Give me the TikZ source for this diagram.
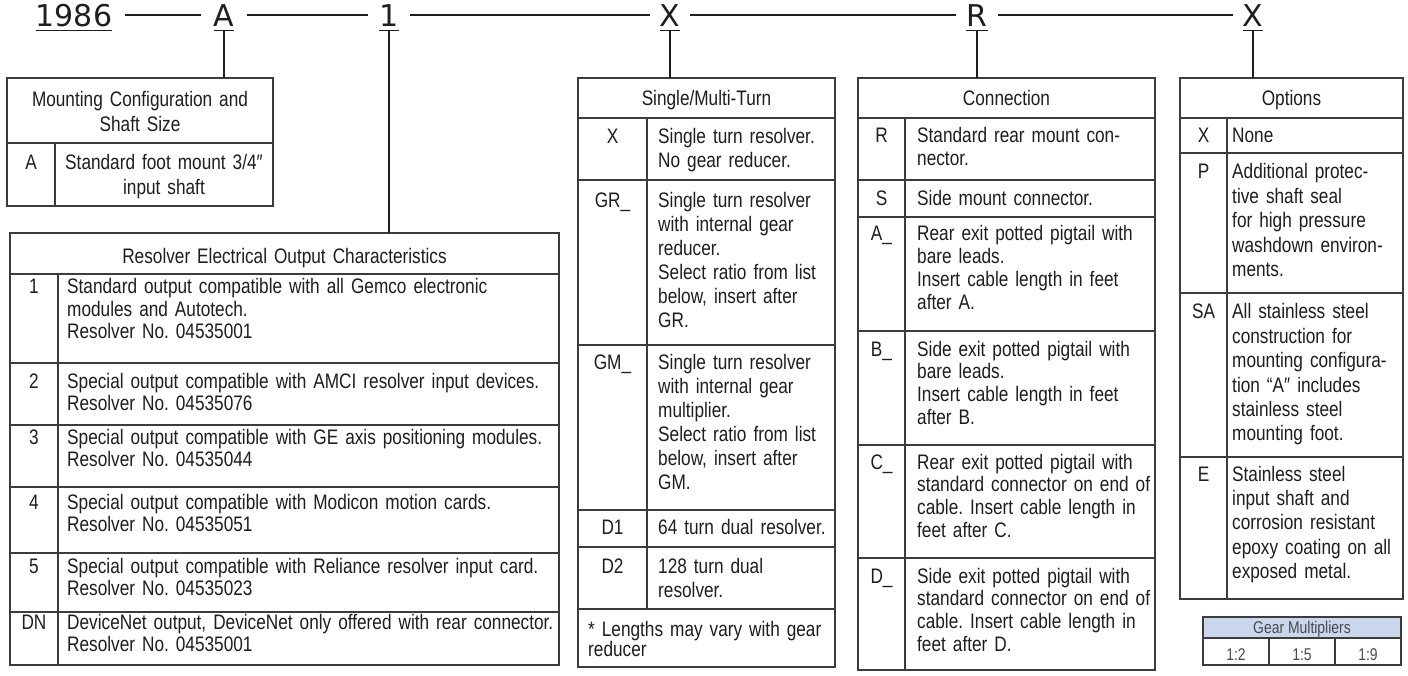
\documentclass[tikz,border=0pt]{standalone}
\usepackage{fontspec}
\newfontfamily\bodyfont{Liberation Sans}[FakeStretch=0.82]
\newfontfamily\hdrfont{DejaVu Sans}
\definecolor{tcol}{HTML}{3C3C3C}
\definecolor{txt}{HTML}{1E1E1E}
\definecolor{gearfill}{HTML}{C9D6EC}
\definecolor{geartxt}{HTML}{4A4A4A}
\newcommand\ResFont{\bodyfont\fontsize{21}{22.5}\selectfont}
\newcommand\SglFont{\bodyfont\fontsize{21}{24}\selectfont}
\newcommand\ConFont{\bodyfont\fontsize{21}{22.7}\selectfont}
\newcommand\OptFont{\bodyfont\fontsize{21}{24.4}\selectfont}
\newcommand\MntFont{\bodyfont\fontsize{21}{25}\selectfont}
\newcommand\NoteFont{\bodyfont\fontsize{21}{20}\selectfont}
\newcommand\GearFont{\bodyfont\fontsize{17}{20}\selectfont}
\frenchspacing
\begin{document}
\begin{tikzpicture}[x=1pt,y=-1pt,
  frame/.style={draw=tcol, line width=1.4pt, anchor=north west, inner sep=0pt, outer sep=0pt},
  gline/.style={draw=tcol, line width=1.4pt},
  hl/.style={draw=txt, line width=1.3pt},
  lab/.style={anchor=base, inner sep=0pt, text height=24pt, text depth=0pt, font=\hdrfont\fontsize{30}{30}\selectfont, text=txt},
  desc/.style={anchor=base west, inner sep=0pt, text width=#1, align=left, text=txt, execute at begin node=\frenchspacing},
  cdesc/.style={anchor=base, inner sep=0pt, text width=#1, align=center, text=txt, execute at begin node=\frenchspacing},
  codetx/.style={anchor=base, inner sep=0pt, text=txt},
]
\fill[white] (0,0) rectangle (1408,676);
\useasboundingbox (0,0) rectangle (1408,676);

% ---------- frames ----------
\node[frame, minimum width=266pt, minimum height=128pt] (mount) at (7,78) {};
\node[frame, minimum width=549pt, minimum height=432pt] (res) at (10,233) {};
\node[frame, minimum width=257pt, minimum height=589pt] (sgl) at (578,78) {};
\node[frame, minimum width=297pt, minimum height=592pt] (con) at (858,78) {};
\node[frame, minimum width=223pt, minimum height=521pt] (opt) at (1180,78) {};
\fill[gearfill] (1203,617) rectangle (1401,638);
\node[frame, line width=1.2pt, minimum width=198pt, minimum height=48pt] (gear) at (1203,617) {};

% ---------- grid lines ----------
% mounting
\draw[gline] (7,143) -- (273,143);
\draw[gline] (55,143) -- (55,206);
% resolver
\foreach \yy in {274,363,425,487,553,612} \draw[gline] (10,\yy) -- (559,\yy);
\draw[gline] (58,274) -- (58,665);
% single/multi
\foreach \yy in {118,180,345,510,547,609} \draw[gline] (578,\yy) -- (835,\yy);
\draw[gline] (647,118) -- (647,609);
% connection
\foreach \yy in {118,180,217,331,445,558} \draw[gline] (858,\yy) -- (1155,\yy);
\draw[gline] (905,118) -- (905,670);
% options
\foreach \yy in {118,153,293,457} \draw[gline] (1180,\yy) -- (1403,\yy);
\draw[gline] (1227,118) -- (1227,599);
% gear
\draw[gline, line width=1.2pt] (1203,638) -- (1401,638);
\draw[gline, line width=1.2pt] (1269,638) -- (1269,665);
\draw[gline, line width=1.2pt] (1335,638) -- (1335,665);

% ---------- header ----------
\node[lab] (n1986) at (74,27) {1986};
\node[lab] (nA) at (224,27) {A};
\node[lab] (n1) at (389,27) {1};
\node[lab] (nX1) at (670,27) {X};
\node[lab] (nR) at (977,27) {R};
\node[lab] (nX2) at (1253,27) {X};
\foreach \n in {n1986,nA,n1,nX1,nR,nX2}
  \draw[hl] ([yshift=-3pt]\n.south west) -- ([yshift=-3pt]\n.south east);
\draw[hl] ([xshift=13pt]n1986.east) -- ([xshift=-13pt]nA.west);
\draw[hl] ([xshift=13pt]nA.east) -- ([xshift=-11pt]n1.west);
\draw[hl] ([xshift=11pt]n1.east) -- ([xshift=-10pt]nX1.west);
\draw[hl] ([xshift=10pt]nX1.east) -- ([xshift=-10pt]nR.west);
\draw[hl] ([xshift=10pt]nR.east) -- ([xshift=-10pt]nX2.west);
\draw[hl] ([yshift=-3pt]nA.south) -- (nA.south |- mount.north);
\draw[hl] ([yshift=-3pt]n1.south) -- (n1.south |- res.north);
\draw[hl] ([yshift=-3pt]nX1.south) -- (nX1.south |- sgl.north);
\draw[hl] ([yshift=-3pt]nR.south) -- (nR.south |- con.north);
\draw[hl] ([yshift=-3pt]nX2.south) -- (nX2.south |- opt.north);

% ---------- mounting ----------
\node[cdesc=260pt, font=\MntFont] (mh) at (140,107) {Mounting Configuration and\\Shaft Size};
\node[codetx, font=\MntFont] (mc) at (31,170) {A};
\node[cdesc=215pt, font=\MntFont] (md) at (164,170) {Standard foot mount 3/4″\\input shaft};

% ---------- resolver ----------
\node[cdesc=540pt, font=\ResFont] (rh) at (284.5,264) {Resolver Electrical Output Characteristics};
\node[codetx, font=\ResFont] (rc1) at (34,294) {1};
\node[desc=600pt, font=\ResFont] (rd1) at (67,294) {Standard output compatible with all Gemco electronic\\modules and Autotech.\\Resolver No. 04535001};
\node[codetx, font=\ResFont] (rc2) at (34,388) {2};
\node[desc=600pt, font=\ResFont] (rd2) at (67,388) {Special output compatible with AMCI resolver input devices.\\Resolver No. 04535076};
\node[codetx, font=\ResFont] (rc3) at (34,444) {3};
\node[desc=600pt, font=\ResFont] (rd3) at (67,444) {Special output compatible with GE axis positioning modules.\\Resolver No. 04535044};
\node[codetx, font=\ResFont] (rc4) at (34,509) {4};
\node[desc=600pt, font=\ResFont] (rd4) at (67,509) {Special output compatible with Modicon motion cards.\\Resolver No. 04535051};
\node[codetx, font=\ResFont] (rc5) at (34,573) {5};
\node[desc=600pt, font=\ResFont] (rd5) at (67,573) {Special output compatible with Reliance resolver input card.\\Resolver No. 04535023};
\node[codetx, font=\ResFont] (rc6) at (34,629) {DN};
\node[desc=600pt, font=\ResFont] (rd6) at (67,629) {DeviceNet output, DeviceNet only offered with rear connector.\\Resolver No. 04535001};

% ---------- single / multi-turn ----------
\node[cdesc=250pt, font=\SglFont] (sh) at (706.5,106) {Single/Multi-Turn};
\node[codetx, font=\SglFont] (sc1) at (612.5,144) {X};
\node[desc=300pt, font=\SglFont] (sd1) at (658,144) {Single turn resolver.\\No gear reducer.};
\node[codetx, font=\SglFont] (sc2) at (612.5,208) {GR\_};
\node[desc=300pt, font=\SglFont] (sd2) at (658,208) {Single turn resolver\\with internal gear\\reducer.\\Select ratio from list\\below, insert after\\GR.};
\node[codetx, font=\SglFont] (sc3) at (612.5,369) {GM\_};
\node[desc=300pt, font=\SglFont] (sd3) at (658,369) {Single turn resolver\\with internal gear\\multiplier.\\Select ratio from list\\below, insert after\\GM.};
\node[codetx, font=\SglFont] (sc4) at (612.5,534) {D1};
\node[desc=300pt, font=\SglFont] (sd4) at (658,534) {64 turn dual resolver.};
\node[codetx, font=\SglFont] (sc5) at (612.5,573) {D2};
\node[desc=300pt, font=\SglFont] (sd5) at (658,573) {128 turn dual\\resolver.};
\node[desc=300pt, font=\NoteFont] (snote) at (588,636) {* Lengths may vary with gear\\reducer};

% ---------- connection ----------
\node[cdesc=290pt, font=\ConFont] (ch) at (1006.5,106) {Connection};
\node[codetx, font=\ConFont] (cc1) at (881.5,143) {R};
\node[desc=320pt, font=\ConFont] (cd1) at (917,143) {Standard rear mount con-\\nector.};
\node[codetx, font=\ConFont] (cc2) at (881.5,206) {S};
\node[desc=320pt, font=\ConFont] (cd2) at (917,206) {Side mount connector.};
\node[codetx, font=\ConFont] (cc3) at (881.5,241) {A\_};
\node[desc=320pt, font=\ConFont] (cd3) at (917,241) {Rear exit potted pigtail with\\bare leads.\\Insert cable length in feet\\after A.};
\node[codetx, font=\ConFont] (cc4) at (881.5,356) {B\_};
\node[desc=320pt, font=\ConFont] (cd4) at (917,356) {Side exit potted pigtail with\\bare leads.\\Insert cable length in feet\\after B.};
\node[codetx, font=\ConFont] (cc5) at (881.5,469) {C\_};
\node[desc=320pt, font=\ConFont] (cd5) at (917,469) {Rear exit potted pigtail with\\standard connector on end of\\cable. Insert cable length in\\feet after C.};
\node[codetx, font=\ConFont] (cc6) at (881.5,583) {D\_};
\node[desc=320pt, font=\ConFont] (cd6) at (917,583) {Side exit potted pigtail with\\standard connector on end of\\cable. Insert cable length in\\feet after D.};

% ---------- options ----------
\node[cdesc=220pt, font=\OptFont] (oh) at (1291.5,106) {Options};
\node[codetx, font=\OptFont] (oc1) at (1203.5,143) {X};
\node[desc=250pt, font=\OptFont] (od1) at (1232,143) {None};
\node[codetx, font=\OptFont] (oc2) at (1203.5,179) {P};
\node[desc=250pt, font=\OptFont] (od2) at (1232,179) {Additional protec-\\tive shaft seal\\for high pressure\\washdown environ-\\ments.};
\node[codetx, font=\OptFont] (oc3) at (1203.5,319) {SA};
\node[desc=250pt, font=\OptFont] (od3) at (1232,319) {All stainless steel\\construction for\\mounting configura-\\tion “A″ includes\\stainless steel\\mounting foot.};
\node[codetx, font=\OptFont] (oc4) at (1203.5,481) {E};
\node[desc=250pt, font=\OptFont] (od4) at (1232,481) {Stainless steel\\input shaft and\\corrosion resistant\\epoxy coating on all\\exposed metal.};

% ---------- gear multipliers ----------
\node[codetx, font=\GearFont, text=geartxt] (gh) at (1302,633) {Gear Multipliers};
\node[codetx, font=\GearFont, text=geartxt] (g1) at (1236,660) {1:2};
\node[codetx, font=\GearFont, text=geartxt] (g2) at (1302,660) {1:5};
\node[codetx, font=\GearFont, text=geartxt] (g3) at (1368,660) {1:9};
\end{tikzpicture}
\end{document}
